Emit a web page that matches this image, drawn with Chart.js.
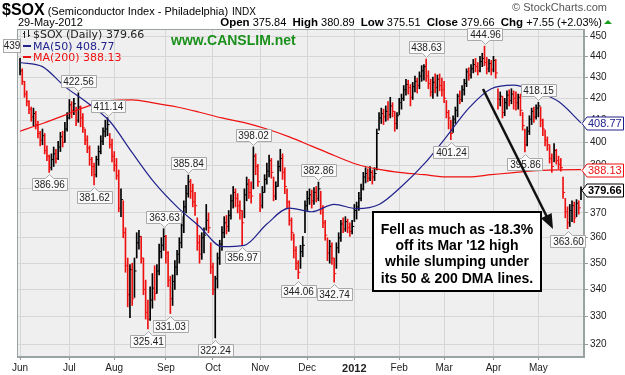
<!DOCTYPE html>
<html>
<head>
<meta charset="utf-8">
<script src="https://cdn.jsdelivr.net/npm/chart.js@4.4.0/dist/chart.umd.min.js"></script>
<style>
  html, body { margin: 0; padding: 0; background: #fff; }
  #wrap { width: 625px; height: 375px; }
</style>
</head>
<body>
<div id="wrap"><canvas id="chart" width="625" height="375"></canvas></div>
<script>
// month labels and the bar index where each month starts (trading days)
const monthNames = ['Jun', 'Jul', 'Aug', 'Sep', 'Oct', 'Nov', 'Dec', '2012', 'Feb', 'Mar', 'Apr', 'May'];
const monthStart = [0, 22, 42, 65, 86, 107, 128, 149, 169, 189, 211, 231];

// daily bars, Jun 2011 .. 29 May 2012, one line per month
const highs = [
  439.0,434.0,428.0,423.5,419.0,416.0,415.5,414.0,409.5,405.0,406.0,404.0,398.5,394.5,395.0,398.0,397.0,400.5,404.5,405.0,409.0,413.5,
  419.5,418.5,420.0,416.0,422.56,416.5,413.0,406.0,403.0,398.5,393.5,391.0,394.0,398.5,403.0,406.5,410.0,411.14,404.0,401.5,
  396.0,393.0,388.0,380.0,375.0,364.0,352.0,349.5,350.0,352.0,362.0,363.0,360.5,352.0,343.5,336.0,341.0,346.0,349.0,349.5,357.5,360.0,363.63,
  361.0,354.5,345.0,345.5,351.0,355.0,360.0,368.5,375.0,381.5,385.84,384.0,382.0,378.5,368.0,361.0,362.0,364.0,373.5,370.0,358.0,
  350.0,345.0,354.0,359.0,364.5,368.5,369.0,371.0,377.5,381.0,380.0,378.0,375.0,371.0,380.0,385.0,384.0,383.0,398.02,395.0,390.5,
  378.0,381.0,386.0,391.0,394.5,393.0,385.0,383.0,392.0,397.0,395.0,389.0,380.0,375.0,368.0,361.5,356.5,351.0,357.0,360.5,375.0,
  379.0,380.0,379.5,380.5,381.0,382.86,379.0,373.0,367.0,360.0,359.0,358.0,352.0,358.0,362.0,367.0,368.0,368.5,367.5,366.0,367.0,
  373.5,374.5,378.5,382.0,387.0,389.0,388.5,389.5,388.0,389.0,406.0,413.5,415.5,415.0,416.5,418.5,420.5,418.0,414.0,413.5,
  420.0,422.0,426.0,429.0,428.5,426.5,427.5,430.5,429.5,432.5,435.5,436.0,438.63,433.0,429.0,430.0,431.5,431.0,431.5,429.5,
  428.0,419.0,414.5,410.0,412.0,416.0,422.0,423.5,426.0,429.0,434.0,434.5,436.0,438.5,439.0,437.0,440.0,441.5,444.96,439.5,438.5,438.0,
  440.0,438.5,424.5,423.0,421.0,420.0,423.5,424.0,424.5,423.5,423.0,422.0,422.0,413.5,406.0,407.0,412.0,415.5,416.0,417.0,
  418.15,416.0,410.5,405.5,402.5,399.0,395.0,399.5,397.0,394.0,393.0,385.0,376.0,372.5,373.5,375.0,374.5,375.5,375.0,380.89
];
const lows = [
  431.0,426.5,420.5,416.5,413.0,409.5,407.5,406.0,402.0,398.5,399.0,395.0,392.0,386.96,388.0,389.5,391.0,392.5,396.0,398.0,400.0,405.0,
  410.5,411.0,412.5,407.5,409.0,407.0,404.5,399.0,395.5,390.0,385.5,381.62,385.0,390.0,395.0,399.0,402.5,403.0,397.5,391.5,
  387.5,384.0,370.5,368.5,360.0,346.5,333.5,329.5,334.0,337.0,352.0,355.5,350.0,338.0,329.0,325.41,328.5,333.0,336.0,338.5,345.5,352.0,355.0,
  350.0,341.0,331.03,334.0,340.0,345.5,350.0,356.0,362.0,370.0,376.5,376.0,372.5,369.0,355.0,350.0,351.5,354.0,363.0,362.0,346.0,
  338.0,322.24,340.5,349.5,355.0,360.0,361.5,362.5,367.5,372.0,372.5,370.0,367.5,356.97,368.0,375.0,376.0,374.0,380.0,386.0,381.0,
  370.5,372.0,378.5,382.0,385.0,384.5,375.0,375.5,381.0,387.5,384.0,378.0,372.0,365.0,359.0,352.0,347.5,344.06,348.0,352.5,362.0,
  371.0,373.5,372.0,373.5,374.5,375.0,369.5,364.0,359.0,351.0,350.0,349.5,342.74,348.0,354.0,358.5,362.0,362.5,362.0,360.5,361.5,
  366.5,367.5,371.0,375.0,379.5,382.5,383.0,383.5,382.0,383.5,388.0,405.5,408.5,408.0,409.5,410.0,411.0,411.5,405.0,406.0,
  412.5,415.0,419.0,421.5,422.0,416.5,419.5,423.0,422.5,424.5,428.0,428.5,428.0,424.5,421.0,420.0,422.5,421.0,423.5,421.0,
  418.0,411.0,406.0,401.24,404.5,408.5,411.5,417.5,418.5,421.5,425.5,428.5,429.5,432.0,432.5,431.0,432.5,435.0,435.5,431.5,432.5,431.0,
  432.5,429.5,415.0,416.5,411.0,412.0,415.0,416.5,417.5,415.0,414.5,415.0,412.0,405.5,395.86,398.5,403.5,408.0,409.0,410.5,
  411.5,407.0,403.0,398.5,396.5,391.0,387.0,391.5,390.5,388.5,387.5,376.0,368.0,363.60,364.5,366.5,366.0,368.5,369.5,375.51
];
const closes = [
  433.0,428.0,422.0,418.5,415.0,411.5,413.0,408.0,404.0,401.0,403.0,396.5,394.0,389.0,392.5,395.0,393.0,398.0,402.5,400.0,406.0,411.0,
  417.0,414.5,417.5,410.0,416.0,411.0,406.5,401.0,397.5,392.5,389.5,386.0,392.5,396.0,400.5,405.0,406.0,408.0,399.0,394.0,
  390.0,385.5,372.0,375.5,362.0,349.0,338.0,347.5,336.5,347.0,358.0,360.5,352.0,340.0,331.5,329.0,336.0,340.5,338.5,347.0,354.5,357.0,360.5,
  354.0,343.5,336.5,343.0,348.5,353.5,358.0,365.0,372.5,378.0,383.0,379.0,374.5,373.0,358.0,353.5,360.0,361.0,367.0,364.0,348.5,
  340.0,344.0,352.0,357.5,362.0,366.0,364.5,369.0,375.0,378.5,376.0,373.0,371.0,366.0,377.5,382.0,378.5,377.0,394.0,389.5,383.0,
  373.0,378.5,384.0,387.5,392.0,387.0,377.0,381.0,389.5,393.0,387.0,381.0,374.5,367.0,362.0,355.0,350.0,346.5,354.5,357.0,373.0,
  376.0,377.5,375.0,378.5,376.0,380.0,372.0,366.0,361.0,354.0,356.5,352.0,346.0,356.0,360.0,365.5,363.5,366.5,364.0,362.5,364.5,
  371.0,372.5,376.0,380.0,385.0,386.5,384.5,387.0,385.0,386.5,404.0,411.0,413.0,411.5,414.0,412.5,416.5,414.0,408.5,412.0,
  418.0,420.0,424.0,426.5,425.0,420.5,425.5,428.0,426.0,430.5,433.0,435.0,430.5,427.0,423.0,427.5,425.0,429.0,426.0,424.0,
  420.0,413.5,411.0,404.0,410.5,414.5,421.0,419.5,424.0,427.0,432.5,431.0,434.0,436.0,435.0,433.0,437.5,439.0,437.0,434.0,436.5,433.5,
  438.0,432.0,419.5,421.0,413.5,418.0,421.5,419.0,422.0,420.0,418.0,420.5,414.5,407.5,399.0,405.0,410.5,414.0,411.5,415.5,
  416.5,410.0,406.0,401.0,399.0,393.0,389.5,396.5,392.0,390.5,389.0,378.5,370.5,366.0,371.0,373.0,368.0,374.0,372.11,379.66
];

// moving averages every 10 bars
const maIdx = [0,10,20,30,40,50,60,70,80,90,100,110,120,130,140,150,160,170,180,190,200,210,220,230,240,250];
const ma50 = [437.0,435.0,425.5,418.0,409.5,395.5,382.5,372.5,364.5,356.5,357.0,365.5,372.0,370.5,373.5,371.8,373.5,381.0,390.5,402.5,415.5,424.5,426.2,423.1,418.5,408.77];
const ma200 = [405.0,408.5,412.3,416.3,419.0,419.3,417.8,416.0,413.6,411.0,408.9,406.0,402.5,398.4,394.3,390.5,388.3,386.9,386.0,385.1,385.1,386.0,386.9,387.7,388.1,388.13];

// price axis ticks
const yTicks = [320, 330, 340, 350, 360, 370, 380, 390, 400, 410, 420, 430, 440, 450];

// labelled highs and lows
const tagIdx = [13, 26, 33, 39, 57, 64, 67, 75, 87, 99, 104, 124, 133, 140, 181, 192, 207, 225, 231, 244];
const tagText = ['386.96','422.56','381.62','411.14','325.41','363.63','331.03','385.84','322.24','356.97','398.02','344.06','382.86','342.74','438.63','401.24','444.96','395.86','418.15','363.60'];
const tagSide = ['L','H','L','H','L','H','L','H','L','L','H','L','H','L','H','L','H','L','H','L'];

const RED = '#ee1111';
const NAVY = '#22228c';
const SANS = '"Liberation Sans", Arial, sans-serif';
const VERD = '"DejaVu Sans", Verdana, sans-serif';

const barColors = closes.map((c, i) => (i === 0 || c >= closes[i - 1]) ? '#000000' : RED);

function tag(ctx, px, py, text, side) {
  ctx.font = '10px ' + SANS;
  const w = Math.round(ctx.measureText(text).width) + 4;
  const h = 12;
  const cx = Math.round(px) + 0.5;
  const bx = Math.round(px - w / 2) + 0.5;
  ctx.beginPath();
  let by;
  if (side === 'H') {
    by = Math.round(py) - 6 - h + 0.5;
    ctx.moveTo(bx, by); ctx.lineTo(bx + w, by); ctx.lineTo(bx + w, by + h);
    ctx.lineTo(cx + 4, by + h); ctx.lineTo(cx, by + h + 4); ctx.lineTo(cx - 4, by + h);
    ctx.lineTo(bx, by + h);
  } else {
    by = Math.round(py) + 6 + 0.5;
    ctx.moveTo(bx, by); ctx.lineTo(cx - 4, by); ctx.lineTo(cx, by - 4); ctx.lineTo(cx + 4, by);
    ctx.lineTo(bx + w, by); ctx.lineTo(bx + w, by + h); ctx.lineTo(bx, by + h);
  }
  ctx.closePath();
  ctx.fillStyle = '#fafafa';
  ctx.fill();
  ctx.strokeStyle = '#a8a8a8';
  ctx.lineWidth = 1;
  ctx.stroke();
  ctx.fillStyle = '#222';
  ctx.textAlign = 'center';
  ctx.textBaseline = 'middle';
  ctx.fillText(text, cx, by + h / 2 + 0.5);
}

function axisTag(ctx, left, py, text, color, bold) {
  const y0 = Math.round(py) + 0.5;
  const h = 13;
  ctx.beginPath();
  ctx.moveTo(left, y0);
  ctx.lineTo(left + 5, y0 - h / 2);
  ctx.lineTo(623.5, y0 - h / 2);
  ctx.lineTo(623.5, y0 + h / 2);
  ctx.lineTo(left + 5, y0 + h / 2);
  ctx.closePath();
  ctx.fillStyle = '#fff';
  ctx.fill();
  ctx.strokeStyle = color;
  ctx.lineWidth = 1;
  ctx.stroke();
  ctx.fillStyle = color;
  ctx.font = (bold ? 'bold 11px ' : '11px ') + SANS;
  ctx.textAlign = 'left';
  ctx.textBaseline = 'middle';
  ctx.fillText(text, left + 6, y0 + 0.5);
}

const decor = {
  id: 'decor',
  beforeDraw(chart) {
    const { ctx, chartArea: a } = chart;
    ctx.save();
    ctx.fillStyle = '#fff';
    ctx.fillRect(0, 0, chart.width, chart.height);
    ctx.fillStyle = '#efefef';
    ctx.fillRect(a.left, a.top, a.right - a.left, a.bottom - a.top);
    ctx.restore();
  },
  afterDraw(chart) {
    const { ctx, chartArea: a, scales: { x, y } } = chart;
    ctx.save();

    // frame
    ctx.strokeStyle = '#9aa3a3';
    ctx.lineWidth = 1;
    ctx.strokeRect(a.left + 0.5, a.top + 0.5, a.right - a.left - 1, a.bottom - a.top - 1);

    // header
    ctx.textBaseline = 'alphabetic';
    ctx.textAlign = 'left';
    ctx.fillStyle = '#000';
    ctx.font = 'bold 16px ' + SANS;
    ctx.fillText('$SOX', 2, 15);
    let hx = 2 + ctx.measureText('$SOX').width + 3;
    ctx.font = '11px ' + SANS;
    ctx.fillText('(Semiconductor Index - Philadelphia)', hx, 15);
    hx += ctx.measureText('(Semiconductor Index - Philadelphia)').width + 4;
    ctx.font = '10px ' + SANS;
    ctx.fillText('INDX', hx, 15);
    ctx.font = '11px ' + SANS;
    ctx.fillText('29-May-2012', 18, 26);

    ctx.fillStyle = '#555';
    ctx.textAlign = 'right';
    ctx.fillText('\u00a9 StockCharts.com', 607, 11);

    // quote line, right aligned
    const parts = [['Open', 1], [' 375.84  ', 0], ['High', 1], [' 380.89  ', 0], ['Low', 1], [' 375.51  ', 0],
      ['Close', 1], [' 379.66  ', 0], ['Chg', 1], [' +7.55 (+2.03%)', 0]];
    const fontOf = b => b ? 'bold 11.5px ' + SANS : '11px ' + SANS;
    let total = 0;
    parts.forEach(p => { ctx.font = fontOf(p[1]); total += ctx.measureText(p[0]).width; });
    let qx = 602 - total;
    ctx.textAlign = 'left';
    ctx.fillStyle = '#000';
    parts.forEach(p => {
      ctx.font = fontOf(p[1]);
      ctx.fillText(p[0], qx, 26);
      qx += ctx.measureText(p[0]).width;
    });
    ctx.fillStyle = '#1aa01a';
    ctx.beginPath();
    ctx.moveTo(604, 24); ctx.lineTo(612, 24); ctx.lineTo(608, 20); ctx.closePath();
    ctx.fill();

    // legend inside the plot
    ctx.fillStyle = '#222';
    ctx.font = '11px ' + VERD;
    ctx.fillRect(24, 31, 1, 7); ctx.fillRect(23, 33, 1, 1);
    ctx.fillRect(28, 30, 1, 7); ctx.fillRect(29, 35, 1, 1);
    ctx.fillText('$SOX (Daily) 379.66', 33, 38);
    ctx.fillStyle = NAVY;
    ctx.fillRect(23, 45, 8, 2);
    ctx.fillText('MA(50) 408.77', 33, 49.5);
    ctx.fillStyle = RED;
    ctx.fillRect(23, 56, 8, 2);
    ctx.fillText('MA(200) 388.13', 33, 60.5);

    // first bar high, clipped tag on the left edge
    ctx.fillStyle = '#fafafa';
    ctx.fillRect(3.5, 39.5, 17, 13);
    ctx.strokeStyle = '#a8a8a8';
    ctx.strokeRect(3.5, 39.5, 17, 13);
    ctx.fillStyle = '#222';
    ctx.font = '10px ' + SANS;
    ctx.textAlign = 'center';
    ctx.textBaseline = 'middle';
    ctx.fillText('439', 12, 46.5);

    // site mark
    ctx.textAlign = 'left';
    ctx.textBaseline = 'alphabetic';
    ctx.fillStyle = '#1b901b';
    ctx.font = 'bold 14px ' + SANS;
    ctx.fillText('www.CANSLIM.net', 171, 45);

    // high / low tags
    tagIdx.forEach((idx, k) => {
      const v = parseFloat(tagText[k]);
      tag(ctx, x.getPixelForValue(idx), y.getPixelForValue(v), tagText[k], tagSide[k]);
    });

    // last values on the price axis
    axisTag(ctx, a.right - 2, y.getPixelForValue(ma50[ma50.length - 1]), '408.77', NAVY, false);
    axisTag(ctx, a.right - 2, y.getPixelForValue(ma200[ma200.length - 1]), '388.13', RED, false);
    axisTag(ctx, a.right - 2, y.getPixelForValue(closes[closes.length - 1]), '379.66', '#000', true);

    // note box
    ctx.fillStyle = '#fff';
    ctx.fillRect(373, 212, 168, 79);
    ctx.strokeStyle = '#000';
    ctx.lineWidth = 2;
    ctx.strokeRect(373, 212, 168, 79);
    ctx.fillStyle = '#000';
    ctx.font = 'bold 14px ' + SANS;
    ctx.textAlign = 'center';
    ctx.textBaseline = 'middle';
    ['Fell as much as -18.3%', "off its Mar '12 high", 'while slumping under', 'its 50 & 200 DMA lines.']
      .forEach((s, k) => ctx.fillText(s, 457, 230 + k * 16.3));

    // arrow
    const x1 = 483, y1 = 89, x2 = 553, y2 = 229;
    const ang = Math.atan2(y2 - y1, x2 - x1);
    ctx.strokeStyle = '#111';
    ctx.lineWidth = 2.5;
    ctx.beginPath();
    ctx.moveTo(x1, y1);
    ctx.lineTo(x2 - 12 * Math.cos(ang), y2 - 12 * Math.sin(ang));
    ctx.stroke();
    ctx.fillStyle = '#111';
    ctx.beginPath();
    ctx.moveTo(x2, y2);
    ctx.lineTo(x2 - 15 * Math.cos(ang) + 6 * Math.sin(ang), y2 - 15 * Math.sin(ang) - 6 * Math.cos(ang));
    ctx.lineTo(x2 - 15 * Math.cos(ang) - 6 * Math.sin(ang), y2 - 15 * Math.sin(ang) + 6 * Math.cos(ang));
    ctx.closePath();
    ctx.fill();

    ctx.restore();
  }
};

const ctx = document.getElementById('chart').getContext('2d');
new Chart(ctx, {
  type: 'bar',
  data: {
    datasets: [
      {
        type: 'line',
        data: maIdx.map((i, k) => ({ x: i, y: ma50[k] })),
        borderColor: NAVY,
        borderWidth: 1.2,
        pointRadius: 0,
        cubicInterpolationMode: 'monotone',
        order: 1
      },
      {
        type: 'line',
        data: maIdx.map((i, k) => ({ x: i, y: ma200[k] })),
        borderColor: RED,
        borderWidth: 1.2,
        pointRadius: 0,
        cubicInterpolationMode: 'monotone',
        order: 2
      },
      {
        type: 'bar',
        data: closes.map((c, i) => ({ x: i, y: [lows[i], highs[i]] })),
        backgroundColor: barColors,
        barThickness: 1,
        order: 3
      },
      {
        type: 'scatter',
        data: closes.map((c, i) => ({ x: i + 0.5, y: c })),
        pointStyle: 'line',
        pointRadius: 1,
        borderColor: barColors,
        borderWidth: 1,
        order: 3
      }
    ]
  },
  options: {
    responsive: false,
    animation: false,
    devicePixelRatio: 1,
    layout: { padding: { left: 17, top: 29, right: 0, bottom: 0 } },
    plugins: { legend: { display: false }, tooltip: { enabled: false } },
    scales: {
      x: {
        type: 'linear',
        offset: false,
        min: -1.34,
        max: 251.34,
        afterBuildTicks: axis => { axis.ticks = monthStart.map(v => ({ value: v })); },
        afterFit: s => { s.height = 18; },
        ticks: {
          autoSkip: false,
          maxRotation: 0,
          padding: 2,
          color: '#222',
          callback: v => monthNames[monthStart.indexOf(v)],
          font: c => (c.tick && c.tick.value === 149)
            ? { family: SANS, size: 11, weight: 'bold' }
            : { family: SANS, size: 10 }
        },
        grid: { offset: false, color: '#d6d6d6', tickLength: 3, tickColor: '#999' },
        border: { color: '#9aa3a3' }
      },
      y: {
        type: 'logarithmic',
        position: 'right',
        min: 315.5,
        max: 453.5,
        afterBuildTicks: axis => { axis.ticks = yTicks.map(v => ({ value: v })); },
        afterFit: s => { s.width = 41; },
        ticks: {
          padding: 2,
          color: '#222',
          font: { family: SANS, size: 10 },
          callback: v => String(v)
        },
        grid: { color: '#d6d6d6', tickLength: 4, tickColor: '#999' },
        border: { color: '#9aa3a3' }
      }
    }
  },
  plugins: [decor]
});
</script>
</body>
</html>
